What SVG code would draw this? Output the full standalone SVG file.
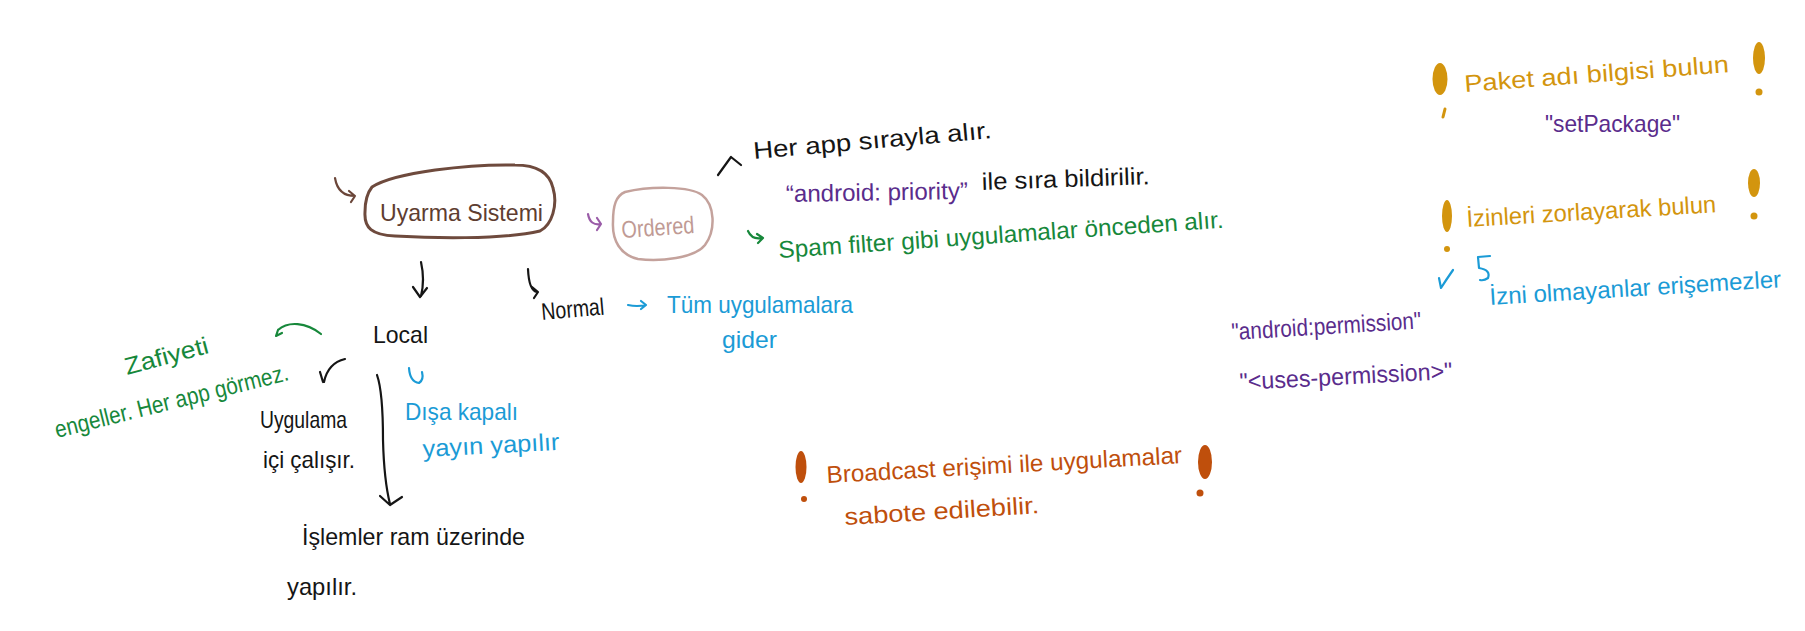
<svg xmlns="http://www.w3.org/2000/svg" width="1805" height="631" viewBox="0 0 1805 631">
<style>
text{font-family:"Liberation Sans","DejaVu Sans",sans-serif;font-size:24px;}
.k{fill:#151515}.br{fill:#5e3d31}.pk{fill:#c09a94}.pu{fill:#5a2c8c}.gr{fill:#17883b}.bl{fill:#1b9bd6}.or{fill:#bf4f0c}.gd{fill:#d3950e}
.ln{fill:none;stroke-width:2.2;stroke-linecap:round;stroke-linejoin:round}
.sk{stroke:#151515}.sbr{stroke:#6b4639}.spk{stroke:#c4a29c}.spu{stroke:#9a5ca8}.sgr{stroke:#17883b}.sbl{stroke:#1b9bd6}
</style>
<rect width="1805" height="631" fill="#ffffff"/>
<g id="connectors">
  <path class="ln sbr" d="M335 178 Q338 196 355 196 M349 191 L355 196 L351 202"/>
  <path class="ln spu" d="M588 214 Q590 226 601 224 M597 218 L601 224 L597 230"/>
  <path class="ln sk" d="M718 175 L731 157 L741 165"/>
  <path class="ln sgr" d="M748 231 Q752 240 762 238 M757 234 L763 238 L758 243"/>
  <path class="ln sk" d="M421 262 Q425 280 421 296 M413 287 L420 297 L427 288"/>
  <path class="ln sk" d="M528 269 Q529 291 537 292 M532 287 L538 292 L534 298"/>
  <path class="ln sbl" d="M628 305 Q637 307 646 305 M641 301 L646 305 L641 309"/>
  <path class="ln sgr" d="M321 334 C306 322 288 321 278 330 M278 330 L276 336 L282 333"/>
  <path class="ln sk" d="M345 359 Q328 363 324 382 M320 372 L323 382"/>
  <path class="ln sk" d="M377 375 Q383 392 383 440 Q384 480 390 504 M380 496 L390 505 L402 497"/>
  <path class="ln sbl" d="M409 368 Q410 382 419 383 Q424 380 422 372"/>
  <path class="ln sbl" d="M1439 278 L1441 288 Q1446 280 1453 270"/>
  <path class="ln sbl" d="M1490 256 L1478 257 L1479 268 Q1491 270 1488 278 Q1484 281 1480 280"/>
</g>
<g id="uyarma-sistemi">
  <path fill="none" stroke="#6e4a3d" stroke-width="3" stroke-linejoin="round" d="M372 187 C395 172 470 164 515 165 C540 165 550 175 553 188 C558 205 552 225 540 231 C500 240 430 238 395 236 C372 235 364 228 365 212 C365 200 368 192 372 187 Z"/>
  <text class="br" x="380" y="221" font-size="26" textLength="163" lengthAdjust="spacingAndGlyphs">Uyarma Sistemi</text>
</g>
<g id="ordered">
  <path fill="none" stroke="#c4a29c" stroke-width="2.5" d="M625 192 C650 186 690 186 702 195 C715 205 716 230 705 245 C695 258 660 262 638 259 C620 255 612 240 613 222 C613 205 616 196 625 192 Z"/>
  <text class="pk" x="622" y="238" font-size="22" textLength="73" lengthAdjust="spacingAndGlyphs" transform="rotate(-4 622 238)">Ordered</text>
</g>
<g id="ordered-notes">
  <text class="k" x="754" y="159" font-size="28" textLength="239" lengthAdjust="spacingAndGlyphs" transform="rotate(-5 754 159)">Her app sırayla alır.</text>
  <text class="pu" x="786" y="202" textLength="182" lengthAdjust="spacingAndGlyphs" transform="rotate(-1 786 202)">“android: priority”</text>
  <text class="k" x="982" y="190" textLength="168" lengthAdjust="spacingAndGlyphs" transform="rotate(-2 982 190)">ile sıra bildirilir.</text>
  <text class="gr" x="779" y="258" textLength="446" lengthAdjust="spacingAndGlyphs" transform="rotate(-3.9 779 258)">Spam filter gibi uygulamalar önceden alır.</text>
</g>
<g id="normal">
  <text class="k" x="542" y="320" font-size="20" textLength="63" lengthAdjust="spacingAndGlyphs" transform="rotate(-5 542 320)">Normal</text>
  <text class="bl" x="667" y="313" textLength="186" lengthAdjust="spacingAndGlyphs">Tüm uygulamalara</text>
  <text class="bl" x="722" y="348" textLength="55" lengthAdjust="spacingAndGlyphs">gider</text>
</g>
<g id="local">
  <text class="k" x="373" y="343" textLength="55" lengthAdjust="spacingAndGlyphs">Local</text>
</g>
<g id="local-notes">
  <text class="gr" x="127" y="375" font-size="22" textLength="86" lengthAdjust="spacingAndGlyphs" transform="rotate(-15 127 375)">Zafiyeti</text>
  <text class="gr" x="57" y="438" textLength="240" lengthAdjust="spacingAndGlyphs" transform="rotate(-14 57 438)">engeller. Her app görmez.</text>
  <text class="k" x="260" y="428" textLength="87" lengthAdjust="spacingAndGlyphs">Uygulama</text>
  <text class="k" x="263" y="468" font-size="22" textLength="92" lengthAdjust="spacingAndGlyphs">içi çalışır.</text>
  <text class="bl" x="405" y="420" textLength="113" lengthAdjust="spacingAndGlyphs">Dışa kapalı</text>
  <text class="bl" x="423" y="457" textLength="137" lengthAdjust="spacingAndGlyphs" transform="rotate(-3 423 457)">yayın yapılır</text>
  <text class="k" x="302" y="545" textLength="223" lengthAdjust="spacingAndGlyphs">İşlemler ram üzerinde</text>
  <text class="k" x="287" y="595" textLength="70" lengthAdjust="spacingAndGlyphs">yapılır.</text>
</g>
<g id="broadcast-warning">
  <ellipse cx="801" cy="467" rx="5.5" ry="16" fill="#bf4f0c"/>
  <circle cx="804" cy="499" r="3" fill="#bf4f0c"/>
  <text class="or" x="827" y="483" font-size="26" textLength="356" lengthAdjust="spacingAndGlyphs" transform="rotate(-3.2 827 483)">Broadcast erişimi ile uygulamalar</text>
  <text class="or" x="845" y="525" font-size="26" textLength="195" lengthAdjust="spacingAndGlyphs" transform="rotate(-3.5 845 525)">sabote edilebilir.</text>
  <ellipse cx="1205" cy="462" rx="7" ry="17" fill="#bf4f0c"/>
  <circle cx="1200" cy="493" r="3.5" fill="#bf4f0c"/>
</g>
<g id="paket-adi">
  <ellipse cx="1440" cy="79" rx="7.5" ry="16" fill="#d3950e"/>
  <path d="M1445 109 L1443 117" stroke="#d3950e" stroke-width="3" stroke-linecap="round"/>
  <text class="gd" x="1465" y="92" textLength="265" lengthAdjust="spacingAndGlyphs" transform="rotate(-4.3 1465 92)">Paket adı bilgisi bulun</text>
  <ellipse cx="1759" cy="58" rx="6" ry="16" fill="#d3950e"/>
  <circle cx="1759" cy="92" r="3.5" fill="#d3950e"/>
  <text class="pu" x="1545" y="132" textLength="135" lengthAdjust="spacingAndGlyphs">"setPackage"</text>
</g>
<g id="izinler">
  <ellipse cx="1447" cy="216" rx="5" ry="16" fill="#d3950e"/>
  <circle cx="1447" cy="249" r="3" fill="#d3950e"/>
  <text class="gd" x="1467" y="227" textLength="250" lengthAdjust="spacingAndGlyphs" transform="rotate(-3.4 1467 227)">İzinleri zorlayarak bulun</text>
  <ellipse cx="1754" cy="183" rx="6" ry="14" fill="#d3950e"/>
  <circle cx="1754" cy="216" r="3.5" fill="#d3950e"/>
  <text class="bl" x="1490" y="305" textLength="292" lengthAdjust="spacingAndGlyphs" transform="rotate(-3.5 1490 305)">İzni olmayanlar erişemezler</text>
  <text class="pu" x="1232" y="340" font-size="22" textLength="190" lengthAdjust="spacingAndGlyphs" transform="rotate(-3.5 1232 340)">"android:permission"</text>
  <text class="pu" x="1240" y="390" font-size="22" textLength="213" lengthAdjust="spacingAndGlyphs" transform="rotate(-3 1240 390)">"&lt;uses-permission&gt;"</text>
</g>
</svg>
